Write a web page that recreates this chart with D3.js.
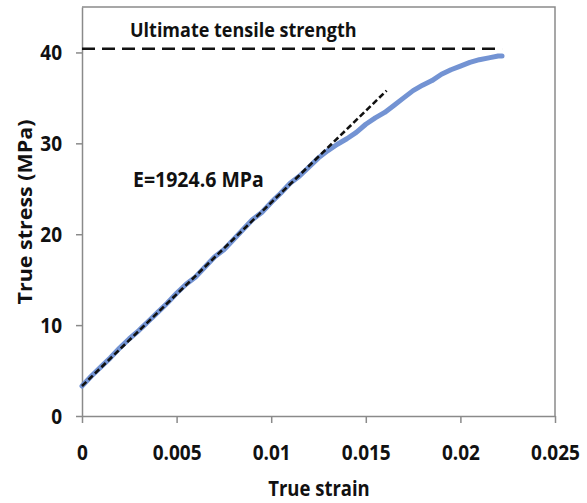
<!DOCTYPE html>
<html><head><meta charset="utf-8">
<script src="https://cdn.jsdelivr.net/npm/d3@7"></script>
<style>body{margin:0;background:#fff}svg{display:block}text{font-family:"Open Sans",sans-serif}</style>
</head><body>
<svg id="c" width="587" height="503"></svg>
<script>
const strain = [0,0.0005,0.001,0.0015,0.002,0.0025,0.003,0.0033,0.0035,0.004,0.0045,0.005,0.0055,0.006,0.0065,0.007,0.0075,0.008,0.0085,0.009,0.0095,0.010,0.0105,0.011,0.0115,0.012,0.0125,0.013,0.0135,0.014,0.0145,0.015,0.0155,0.016,0.0165,0.017,0.0175,0.018,0.0185,0.019,0.0195,0.020,0.0205,0.021,0.0215,0.022,0.0222];
const stress = [3.3,4.4,5.4,6.4,7.5,8.5,9.4,10.0,10.4,11.4,12.4,13.5,14.5,15.3,16.4,17.5,18.3,19.4,20.5,21.6,22.4,23.5,24.5,25.6,26.4,27.4,28.4,29.2,29.9,30.5,31.2,32.1,32.8,33.4,34.2,35.0,35.8,36.4,36.9,37.6,38.1,38.5,38.9,39.2,39.4,39.6,39.6];
const fitStrain = [0, 0.0161];
const fitStress = [3.3, 35.8];
const utsStrain = [0, 0.0222];
const utsStress = [40.4, 40.4];
const xTicks = [0,0.005,0.01,0.015,0.02,0.025];
const xTickLabels = ["0","0.005","0.01","0.015","0.02","0.025"];
const yTicks = [0,10,20,30,40];
const utsLabel = "Ultimate tensile strength";
const modulusLabel = "E=1924.6 MPa";
const xTitle = "True strain";
const yTitle = "True stress (MPa)";

const svg = d3.select("#c");
const L=82, R=555, T=7, B=416;
const SY = 1.13; // vertical stretch of the glyphs
const x = d3.scaleLinear().domain([0,0.025]).range([L,R]);
const y = d3.scaleLinear().domain([0,45]).range([B,T]);
const axisColor = "#8a8a8a";

svg.append("path").attr("d",`M${L},${T}H${R}V${B}`).attr("fill","none").attr("stroke",axisColor).attr("stroke-width",1.5);

const xa = svg.append("g").attr("transform",`translate(0,${B})`)
  .call(d3.axisBottom(x).tickValues(xTicks).tickSize(7).tickSizeOuter(0).tickFormat((d,i)=>xTickLabels[i]));
const ya = svg.append("g").attr("transform",`translate(${L},0)`)
  .call(d3.axisLeft(y).tickValues(yTicks).tickSize(6).tickSizeOuter(0).tickFormat(d3.format("d")));
[xa,ya].forEach(g=>{
  g.select(".domain").attr("stroke",axisColor).attr("stroke-width",1.5);
  g.selectAll(".tick line").attr("stroke",axisColor).attr("stroke-width",1.5);
  g.selectAll("text").attr("fill","#111").attr("font-size",19).attr("font-weight",700).attr("font-family","'Open Sans',sans-serif");
});
xa.selectAll(".tick text").attr("dy",0).attr("y",0).attr("transform",`translate(0,44) scale(1,${SY})`);
ya.selectAll(".tick text").attr("x",0).attr("dy","0.35em").attr("transform",`translate(-20,0) scale(1,${SY})`);

const pts = strain.map((s,i)=>[s,stress[i]]);
const line = d3.line().x(d=>x(d[0])).y(d=>y(d[1]));
svg.append("path").datum(pts).attr("d",line).attr("fill","none")
  .attr("stroke","#7393d3").attr("stroke-width",5).attr("stroke-linejoin","round").attr("stroke-linecap","round");

svg.append("path").datum(fitStrain.map((s,i)=>[s,fitStress[i]])).attr("d",line).attr("fill","none")
  .attr("stroke","#111").attr("stroke-width",2.6).attr("stroke-dasharray","6,3");

svg.append("path").datum(utsStrain.map((s,i)=>[s,utsStress[i]])).attr("d",line).attr("fill","none")
  .attr("stroke","#111").attr("stroke-width",2.6).attr("stroke-dasharray","13,7");

svg.append("text").attr("transform",`translate(130,37) scale(1,${SY})`).attr("font-size",18).attr("font-weight",700).attr("fill","#111").text(utsLabel);
svg.append("text").attr("transform",`translate(133,187) scale(1,${SY})`).attr("font-size",19.5).attr("font-weight",700).attr("fill","#111").text(modulusLabel);

svg.append("text").attr("transform",`translate(319,496) scale(1,${SY})`).attr("text-anchor","middle").attr("font-size",18.5).attr("font-weight",700).attr("fill","#111").text(xTitle);
svg.append("text").attr("transform",`translate(32,212) rotate(-90) scale(${SY},1)`).attr("text-anchor","middle").attr("font-size",19).attr("font-weight",700).attr("fill","#111").text(yTitle);
</script>
</body></html>
